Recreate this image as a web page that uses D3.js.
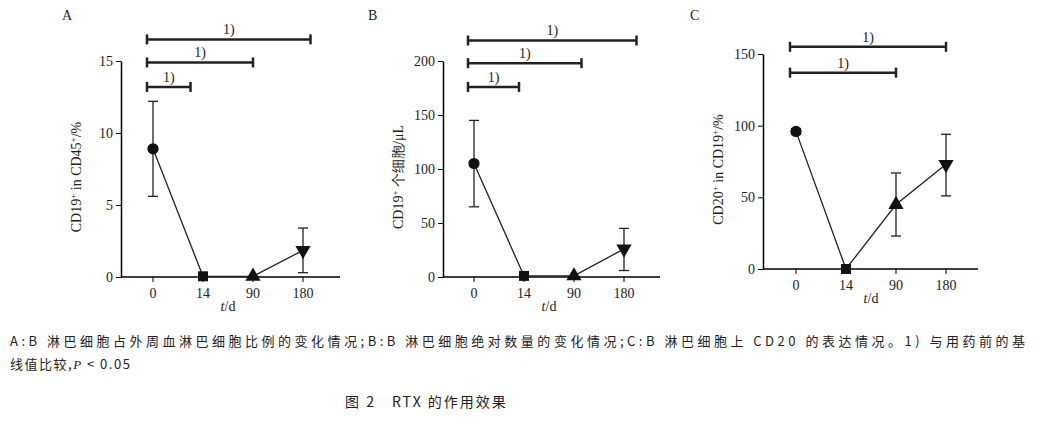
<!DOCTYPE html>
<html><head><meta charset="utf-8">
<script src="https://cdn.jsdelivr.net/npm/d3@7"></script>
<style>body{margin:0;background:#fff}</style>
</head><body>
<script>
const days = ['0', '14', '90', '180']
const shapes = ['circle', 'square', 'triangle', 'triangledown']
const serif = '"Liberation Serif","Times New Roman","DejaVu Serif",serif'

const meanA = [8.9, 0.05, 0.05, 1.85], lowA = [5.6, null, null, 0.3], highA = [12.2, null, null, 3.4]
const meanB = [105, 1, 1, 26], lowB = [65, null, null, 6], highB = [145, null, null, 45]
const meanC = [96, 0, 45, 73], lowC = [94, null, 23, 51], highC = [98, null, 67, 94]

const ticksA = [0, 5, 10, 15], ticksB = [0, 50, 100, 150, 200], ticksC = [0, 50, 100, 150]
// significance brackets: [from index, to index (fractional ok), y value]
const sigA = [[0, 3.15, 16.5], [0, 2.0, 14.9], [0, 0.75, 13.2]]
const sigB = [[0, 3.25, 219], [0, 2.15, 198], [0, 0.9, 176]]
const sigC = [[0, 3.0, 155], [0, 2.0, 137]]

let svg = d3.select('body').append('svg').attr('width', 1048).attr('height', 430)

function panel(o) {
  let g = svg.append('g').attr('font-family', serif)
  let y = d3.scaleLinear().domain([0, o.ymax]).range([o.y0, o.y1])
  let xi = d3.scaleLinear().domain([0, 3]).range([o.x0, o.x0 + 150])
  let T = () => g.append('text').attr('font-family', serif).attr('fill', '#222').attr('font-size', 14)
  T().attr('x', o.lx).attr('y', 20).text(o.letter)
  let ya = g.append('g').attr('transform', `translate(${o.ax},0)`)
    .call(d3.axisLeft(y).tickValues(o.ticks).tickSize(5).tickSizeOuter(0))
  ya.attr('font-family', serif).attr('font-size', 14)
  ya.selectAll('text').attr('font-family', serif).attr('font-size', 14).attr('fill', '#222')
  ya.select('.domain').attr('stroke-width', 1.5)
  g.append('line').attr('x1', o.ax).attr('x2', o.xend).attr('y1', o.y0).attr('y2', o.y0)
    .attr('stroke', '#000').attr('stroke-width', 1.5)
  days.forEach((d, i) => {
    g.append('line').attr('x1', xi(i)).attr('x2', xi(i)).attr('y1', o.y0).attr('y2', o.y0 + 5).attr('stroke', '#000')
    T().attr('x', xi(i)).attr('y', o.y0 + 21).attr('text-anchor', 'middle').text(d)
  })
  let xl = T().attr('x', (xi(1) + xi(2)) / 2).attr('y', o.y0 + 34).attr('text-anchor', 'middle')
  xl.append('tspan').attr('font-style', 'italic').text('t')
  xl.append('tspan').text('/d')
  let yl = T().attr('transform', `translate(${o.ax - 40},${(o.y0 + o.y1) / 2 + 8}) rotate(-90)`).attr('text-anchor', 'middle')
  o.ylabel.forEach(p => yl.append('tspan').attr('baseline-shift', p[1] ? 'super' : null).attr('font-size', p[1] ? 9 : 14).text(p[0]))
  g.append('path').datum(o.mean).attr('fill', 'none').attr('stroke', '#222').attr('stroke-width', 1.3)
    .attr('d', d3.line().x((v, i) => xi(i)).y(v => y(v)))
  o.mean.forEach((v, i) => {
    if (o.low[i] == null) return
    let cx = xi(i)
    g.append('line').attr('x1', cx).attr('x2', cx).attr('y1', y(o.low[i])).attr('y2', y(o.high[i])).attr('stroke', '#222').attr('stroke-width', 1.3)
    ;[o.low[i], o.high[i]].forEach(e => g.append('line').attr('x1', cx - 5).attr('x2', cx + 5).attr('y1', y(e)).attr('y2', y(e)).attr('stroke', '#222').attr('stroke-width', 1.3))
  })
  const sym = {circle: d3.symbolCircle, square: d3.symbolSquare, triangle: d3.symbolTriangle, triangledown: d3.symbolTriangle}
  o.mean.forEach((v, i) => {
    g.append('path').attr('d', d3.symbol(sym[shapes[i]], 100)())
      .attr('transform', `translate(${xi(i)},${y(v)})${shapes[i] === 'triangledown' ? ' rotate(180)' : ''}`)
      .attr('fill', '#111')
  })
  o.sig.forEach(s => {
    let x1 = xi(s[0]) - 6, x2 = xi(s[1]), yy = y(s[2])
    g.append('line').attr('x1', x1).attr('x2', x2).attr('y1', yy).attr('y2', yy).attr('stroke', '#222').attr('stroke-width', 2.5)
    ;[x1, x2].forEach(xx => g.append('line').attr('x1', xx).attr('x2', xx).attr('y1', yy - 5).attr('y2', yy + 5).attr('stroke', '#222').attr('stroke-width', 2.5))
    T().attr('x', (x1 + x2) / 2).attr('y', yy - 5).attr('text-anchor', 'middle').text('1)')
  })
}

panel({letter: 'A', lx: 62, ax: 121, x0: 153, xend: 340, y0: 277, y1: 61, ymax: 15, ticks: ticksA,
  mean: meanA, low: lowA, high: highA, sig: sigA, ylabel: [['CD19'], ['+', 1], [' in CD45'], ['+', 1], ['/%']]})
panel({letter: 'B', lx: 368, ax: 443, x0: 474, xend: 660, y0: 277, y1: 61, ymax: 200, ticks: ticksB,
  mean: meanB, low: lowB, high: highB, sig: sigB, ylabel: [['CD19'], ['+', 1], [' 个细胞/μL']]})
panel({letter: 'C', lx: 690, ax: 763, x0: 796, xend: 978, y0: 269, y1: 54, ymax: 150, ticks: ticksC,
  mean: meanC, low: lowC, high: highC, sig: sigC, ylabel: [['CD20'], ['+', 1], [' in CD19'], ['+', 1], ['/%']]})

const cjk = '"Noto Sans CJK SC",sans-serif'
svg.append('text').attr('x', 10).attr('y', 346).attr('font-size', 13).attr('font-family', cjk).attr('fill', '#222')
  .attr('textLength', 1015).attr('lengthAdjust', 'spacing')
  .text('A:B 淋巴细胞占外周血淋巴细胞比例的变化情况;B:B 淋巴细胞绝对数量的变化情况;C:B 淋巴细胞上 CD20 的表达情况。1) 与用药前的基')
let c2 = svg.append('text').attr('x', 10).attr('y', 369).attr('font-size', 13).attr('font-family', cjk).attr('fill', '#222')
  .attr('letter-spacing', 1.5)
c2.append('tspan').text('线值比较,')
c2.append('tspan').attr('font-style', 'italic').attr('font-family', serif).text('P')
c2.append('tspan').text(' < 0.05')
svg.append('text').attr('x', 345).attr('y', 407).attr('font-size', 14).attr('font-family', cjk).attr('fill', '#222')
  .attr('letter-spacing', 2).text('图 2　RTX 的作用效果')
</script>
</body></html>
